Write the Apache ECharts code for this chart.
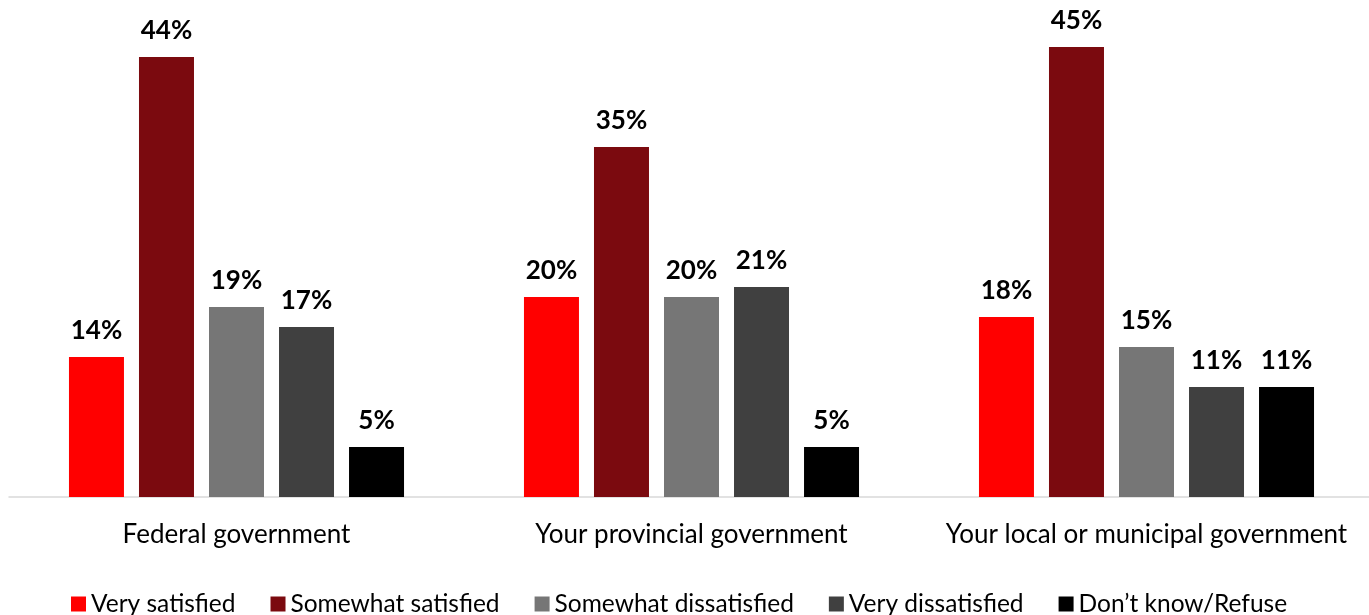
<!DOCTYPE html>
<html><head><meta charset="utf-8">
<script src="https://cdn.jsdelivr.net/npm/echarts@6/dist/echarts.min.js"></script>
<style>html,body{margin:0;padding:0;background:#fff;overflow:hidden}#c{width:1375px;height:615px}</style>
</head><body><div id="c"></div>
<script>
const categories = ['Federal government', 'Your provincial government', 'Your local or municipal government'];
const seriesNames = ['Very satisfied', 'Somewhat satisfied', 'Somewhat dissatisfied', 'Very dissatisfied', 'Don\u2019t know/Refuse'];
const verySatisfied = [14, 20, 18];
const somewhatSatisfied = [44, 35, 45];
const somewhatDissatisfied = [19, 20, 15];
const veryDissatisfied = [17, 21, 11];
const dontKnow = [5, 5, 11];
const colors = ['#FF0000', '#7B0A0F', '#767676', '#404040', '#000000'];
const values = [verySatisfied, somewhatSatisfied, somewhatDissatisfied, veryDissatisfied, dontKnow];
const font = 'Lato, "Open Sans", sans-serif';
const chart = echarts.init(document.getElementById('c'));
chart.setOption({
  animation: false,
  textStyle: { fontFamily: font },
  legend: {
    top: 589, left: 71, itemWidth: 15, itemHeight: 15, itemGap: 35, padding: 0,
    icon: 'rect',
    textStyle: { fontSize: 24.5, lineHeight: 30, color: '#000', fontFamily: font },
    data: seriesNames
  },
  grid: { left: 9, width: 1365, top: 47, bottom: 118 },
  xAxis: {
    type: 'category', data: categories,
    axisLine: { lineStyle: { color: '#D9D9D9', width: 1.5 } },
    axisTick: { show: false },
    axisLabel: { fontSize: 26, color: '#000', margin: 25, interval: 0, fontFamily: font }
  },
  yAxis: { type: 'value', min: 0, max: 45, show: false, splitLine: { show: false } },
  series: values.map((v, i) => ({
    name: seriesNames[i], type: 'bar', data: v,
    barWidth: 55, barGap: '27.3%',
    itemStyle: { color: colors[i] },
    label: { show: true, position: 'top', distance: 13, formatter: '{c}%', fontSize: 26, fontWeight: 'bold', color: '#000', fontFamily: font }
  }))
});
</script></body></html>
